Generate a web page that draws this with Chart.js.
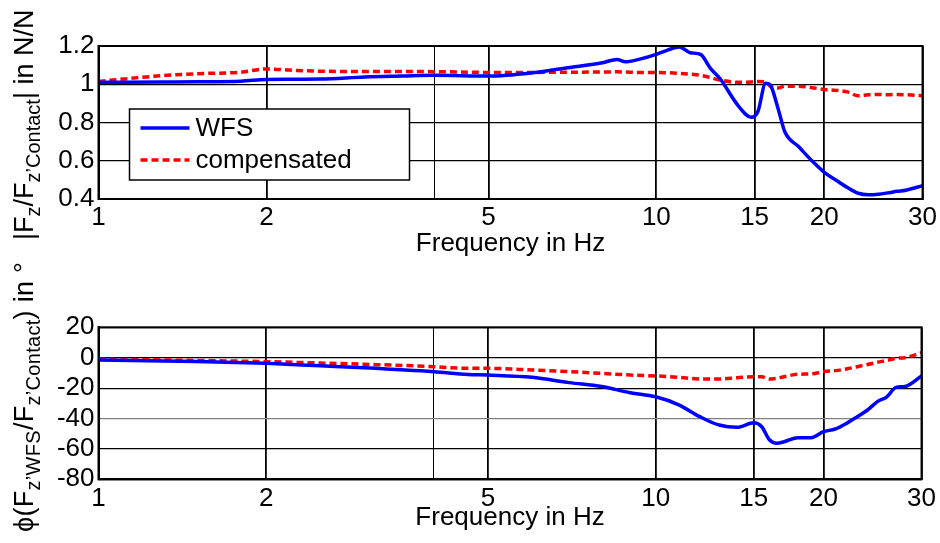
<!DOCTYPE html>
<html>
<head>
<meta charset="utf-8">
<script src="https://cdn.jsdelivr.net/npm/chart.js@4.4.1/dist/chart.umd.min.js"></script>
<style>
body { margin: 0; background: #fff; }
#wrap { position: relative; width: 940px; height: 543px; overflow: hidden; font-family: Arial, 'Liberation Sans', sans-serif; }
.caja { position: absolute; left: 0; width: 940px; }
.ytitulo { position: absolute; transform-origin: 0 0; transform: rotate(-90deg); white-space: nowrap; font-size: 27px; line-height: 30px; color: #000; }
.ytitulo sub { font-size: 20px; vertical-align: -7px; line-height: 0; }
</style>
</head>
<body>
<div id="wrap">
	<div class="caja" style="top:0;height:270px"><canvas id="chartMagnitud"></canvas></div>
	<div class="caja" style="top:270px;height:273px"><canvas id="chartFase"></canvas></div>
	<div class="ytitulo" style="left:9px;top:240px">|F<sub>z</sub>/F<sub>z’Contact</sub>| in N/N</div>
	<div class="ytitulo" style="left:9px;top:532px;letter-spacing:0.3px">ϕ(F<sub>z’WFS</sub>/F<sub>z’Contact</sub>) in °</div>
</div>
<script>
// Datos
const magFreq = [1, 1.3, 1.5, 1.8, 2, 2.2, 2.5, 3, 3.5, 4, 5, 6, 7, 8, 8.5, 8.8, 9.3, 10, 10.5, 11, 11.5, 12, 12.5, 13, 14, 14.8, 15.2, 15.7, 16, 16.5, 17, 18, 19, 20, 21, 22, 23, 24, 25, 26, 27, 28, 30];
const magWfs = [1.01, 1.012, 1.013, 1.016, 1.025, 1.026, 1.027, 1.038, 1.043, 1.047, 1.043, 1.06, 1.088, 1.112, 1.13, 1.117, 1.13, 1.156, 1.18, 1.195, 1.165, 1.156, 1.083, 1.03, 0.89, 0.827, 0.856, 1.005, 0.996, 0.88, 0.75, 0.673, 0.6, 0.539, 0.498, 0.46, 0.43, 0.422, 0.425, 0.432, 0.44, 0.446, 0.47];
const magComp = [1.015, 1.045, 1.055, 1.063, 1.08, 1.074, 1.068, 1.067, 1.067, 1.066, 1.062, 1.062, 1.063, 1.064, 1.065, 1.064, 1.062, 1.062, 1.06, 1.057, 1.053, 1.047, 1.035, 1.022, 1.01, 1.012, 1.014, 1.012, 0.99, 0.98, 0.99, 0.99, 0.982, 0.973, 0.968, 0.96, 0.94, 0.945, 0.947, 0.945, 0.947, 0.945, 0.94];

const phaseFreq = [1, 1.5, 2, 2.5, 3, 4, 4.6, 5, 6, 7, 8, 9, 10, 11, 12, 13, 14, 15, 15.5, 16, 16.5, 17, 18, 19, 20, 21, 22, 23, 24, 25, 26, 27, 28, 30];
const phaseWfs = [-1.5, -2.5, -3.7, -5.3, -6.6, -9.2, -11, -11.4, -12.9, -16.4, -19, -23, -25.7, -31, -38.8, -44.3, -45.8, -42.8, -45.4, -54, -56.3, -55.3, -52.6, -52.6, -48.7, -46.9, -43.2, -38.8, -34.4, -28.9, -25.7, -19.5, -19, -12];
const phaseComp = [-1, -1.8, -2.6, -3.5, -4.3, -5.9, -7, -7, -8.1, -9.2, -10.3, -11.4, -12, -12.9, -14, -14, -13.2, -12.5, -12.5, -14, -13.5, -12.5, -10.9, -10.7, -9.2, -8.5, -7.4, -5.9, -4.5, -3, -1.8, -0.4, 0, 3.3];

const freqTicks = [1, 2, 4, 5, 10, 15, 20, 30];
const freqTickLabels = ['1', '2', '', '5', '10', '15', '20', '30'];
const magTicks = [0.4, 0.6, 0.8, 1, 1.2];
const phaseTicks = [-80, -60, -40, -20, 0, 20];
const seriesNames = ['WFS', 'compensated'];
const xTitle = 'Frequency in Hz';

const fuente = { family: "Arial, 'Liberation Sans', sans-serif", size: 26 };

function puntos(freq, vals) {
	return freq.map((f, i) => ({ x: f, y: vals[i] }));
}

// Marco negro alrededor del área de la gráfica
const marcoPlugin = {
	id: 'marco',
	afterDatasetsDraw(chart) {
		const a = chart.chartArea;
		const ctx = chart.ctx;
		ctx.save();
		ctx.strokeStyle = '#000';
		ctx.lineWidth = 2;
		ctx.strokeRect(a.left, a.top, a.right - a.left, a.bottom - a.top);
		ctx.restore();
	}
};

// Leyenda dentro del área (solo gráfica superior)
const leyendaPlugin = {
	id: 'leyenda',
	afterDraw(chart) {
		const a = chart.chartArea;
		const ctx = chart.ctx;
		const x0 = a.left + 31, y0 = a.top + 63, w = 280, h = 71;
		ctx.save();
		ctx.fillStyle = '#fff';
		ctx.fillRect(x0, y0, w, h);
		ctx.strokeStyle = '#000';
		ctx.lineWidth = 1.5;
		ctx.strokeRect(x0, y0, w, h);
		chart.data.datasets.forEach((ds, i) => {
			const y = y0 + 19 + i * 32;
			ctx.beginPath();
			ctx.strokeStyle = ds.borderColor;
			ctx.lineWidth = ds.borderWidth;
			ctx.setLineDash(ds.borderDash || []);
			ctx.moveTo(x0 + 11, y);
			ctx.lineTo(x0 + 60, y);
			ctx.stroke();
			ctx.setLineDash([]);
			ctx.fillStyle = '#000';
			ctx.font = '26px ' + fuente.family;
			ctx.textBaseline = 'middle';
			ctx.fillText(ds.label, x0 + 66, y + 1);
		});
		ctx.restore();
	}
};

function crearGrafica(id, freq, wfs, comp, yTicks, yMin, yMax, cfg) {
	const ctx = document.getElementById(id).getContext('2d');
	return new Chart(ctx, {
		type: 'line',
		data: {
			datasets: [{
				label: seriesNames[0],
				data: puntos(freq, wfs),
				borderColor: '#0000ff',
				borderWidth: 3.5,
				pointRadius: 0,
				cubicInterpolationMode: 'monotone'
			}, {
				label: seriesNames[1],
				data: puntos(freq, comp),
				borderColor: '#ff0000',
				borderWidth: 3.5,
				borderDash: [7, 4],
				pointRadius: 0,
				cubicInterpolationMode: 'monotone'
			}]
		},
		plugins: cfg.plugins,
		options: {
			responsive: true,
			maintainAspectRatio: false,
			animation: false,
			events: [],
			layout: { padding: { left: 0, right: 17.3, top: cfg.top, bottom: 0 } },
			plugins: { legend: { display: false }, tooltip: { enabled: false } },
			scales: {
				x: {
					type: 'logarithmic',
					min: 1,
					max: 30,
					afterBuildTicks: s => { s.ticks = freqTicks.map(v => ({ value: v })); },
					afterFit: s => { s.height = cfg.xHeight; },
					grid: {
						color: '#000',
						lineWidth: c => (c.tick && c.tick.value === 4 ? 1 : 1.8),
						drawTicks: false
					},
					border: { color: '#000', width: 2 },
					ticks: {
						font: fuente,
						color: '#000',
						padding: cfg.xPad,
						maxRotation: 0,
						autoSkip: false,
						callback: (v, i) => freqTickLabels[i]
					},
					title: {
						display: true,
						text: xTitle,
						font: fuente,
						color: '#000',
						padding: { top: 0, bottom: cfg.titlePad }
					}
				},
				y: {
					min: yMin,
					max: yMax,
					afterBuildTicks: s => { s.ticks = yTicks.map(v => ({ value: v })); },
					afterFit: s => { s.width = 98.5; },
					grid: {
						color: c => (c.tick && c.tick.value === -40 ? '#808080' : '#000'),
						lineWidth: 1.2,
						drawTicks: false
					},
					border: { color: '#000', width: 2 },
					ticks: {
						font: fuente,
						color: '#000',
						padding: 4,
						autoSkip: false,
						callback: v => String(v)
					}
				}
			}
		}
	});
}

crearGrafica('chartMagnitud', magFreq, magWfs, magComp, magTicks, 0.4, 1.2,
	{ top: 46, xHeight: 71, xPad: 3, titlePad: 11, plugins: [marcoPlugin, leyendaPlugin] });
crearGrafica('chartFase', phaseFreq, phaseWfs, phaseComp, phaseTicks, -80, 20,
	{ top: 57.3, xHeight: 63.7, xPad: 4, titlePad: 10, plugins: [marcoPlugin] });
</script>
</body>
</html>
